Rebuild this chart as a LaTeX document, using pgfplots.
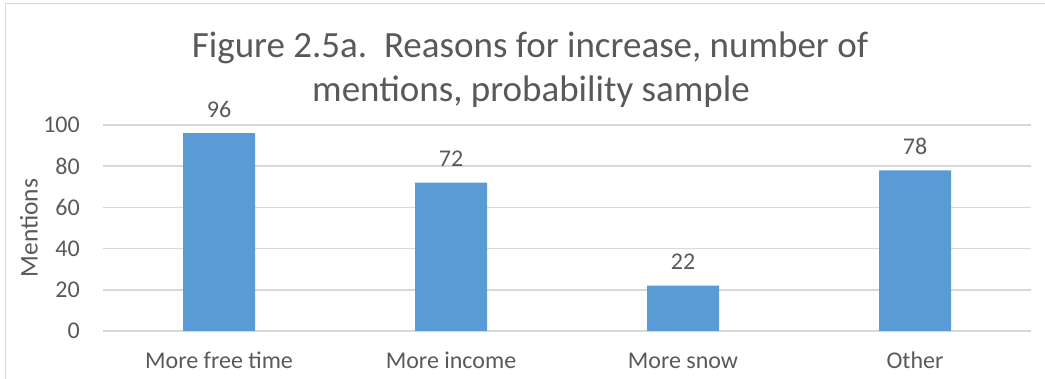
\documentclass[border=0pt]{standalone}
\usepackage{pgfplots}
\pgfplotsset{compat=1.18}
\usepackage{fontspec}
\setmainfont{Carlito}

\definecolor{barblue}{HTML}{5B9BD5}
\definecolor{txtgray}{HTML}{595959}
\definecolor{gridgray}{HTML}{D9D9D9}

\begin{document}
\begin{tikzpicture}[x=1pt,y=1pt]
  % canvas and chart frame
  \path[use as bounding box] (0,0) rectangle (1045,379);
  \draw[gridgray, line width=1.5pt] (5.5,0) -- (5.5,375.5) -- (1045,375.5);

  % title
  \node[anchor=base, text=txtgray, font=\fontsize{37}{44}\selectfont, inner sep=0pt]
    at (530,321) {Figure 2.5a.\ \ Reasons for increase, number of};
  \node[anchor=base, text=txtgray, font=\fontsize{37}{44}\selectfont, inner sep=0pt]
    at (531,277) {mentions, probability sample};

  % y-axis label
  \node[rotate=90, anchor=center, text=txtgray, font=\fontsize{25.5}{30}\selectfont, inner sep=0pt]
    at (29,151) {Mentions};

  \begin{axis}[
    at={(103pt,48pt)}, anchor=south west,
    scale only axis, width=928pt, height=206pt,
    xmin=-0.5, xmax=3.5, ymin=0, ymax=100,
    axis line style={draw=none},
    major tick length=0pt,
    xtick={0,1,2,3},
    xticklabels={More free time, More income, More snow, Other},
    ytick={0,20,40,60,80,100},
    ymajorgrids,
    major grid style={gridgray, line width=1.5pt},
    tick label style={text=txtgray, font=\fontsize{24}{28}\selectfont},
    /pgf/number format/assume math mode=true,
    xticklabel style={anchor=base, inner sep=0pt, yshift=-38pt},
    yticklabel style={anchor=east, inner sep=0pt, xshift=-23pt},
    nodes near coords,
    every node near coord/.append style={anchor=base, inner sep=0pt, yshift=16pt,
      text=txtgray, font=\fontsize{24}{28}\selectfont},
  ]
    \addplot[ybar, bar width=72pt, fill=barblue, draw=none]
      coordinates {(0,96) (1,72) (2,22) (3,78)};
  \end{axis}
\end{tikzpicture}
\end{document}
